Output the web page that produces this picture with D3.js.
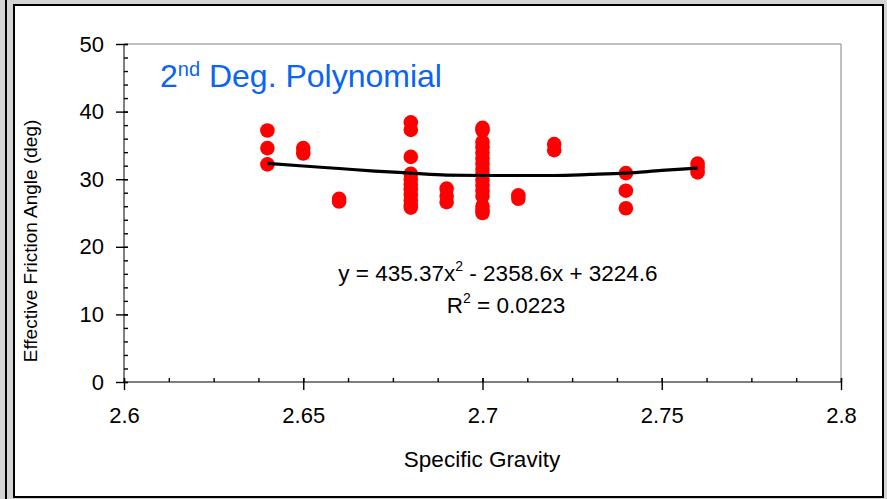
<!DOCTYPE html>
<html>
<head>
<meta charset="utf-8">
<script src="https://cdn.jsdelivr.net/npm/d3@7"></script>
<style>
	html, body { margin: 0; padding: 0; background: #d4d4d4; }
	body { width: 887px; height: 499px; overflow: hidden; position: relative; }
	#edge { position: absolute; left: 5px; top: 0; width: 2px; height: 499px; background: #000; }
	#viz { position: absolute; left: 0; top: 0; }
	text { font-family: 'Liberation Sans', Arial, sans-serif; fill: #000; }
</style>
</head>
<body>
<div id="edge"></div>
<svg id="viz" width="887" height="499"></svg>
<script>

var gravity = [
	2.64, 2.64, 2.64,
	2.65, 2.65,
	2.66, 2.66,
	2.68, 2.68, 2.68, 2.68, 2.68, 2.68, 2.68, 2.68, 2.68, 2.68, 2.68,
	2.69, 2.69, 2.69,
	2.70, 2.70, 2.70, 2.70, 2.70, 2.70, 2.70, 2.70, 2.70, 2.70, 2.70, 2.70, 2.70, 2.70, 2.70, 2.70,
	2.71, 2.71,
	2.72, 2.72,
	2.74, 2.74, 2.74,
	2.76, 2.76, 2.76
];

var frictionAngle = [
	37.2, 34.6, 32.2,
	34.6, 33.8,
	27.1, 26.7,
	38.4, 37.3, 33.3, 30.8, 30.0, 29.2, 28.5, 27.7, 26.9, 26.2, 25.8,
	28.6, 27.5, 26.6,
	37.6, 37.2, 35.5, 34.7, 33.9, 33.1, 32.3, 31.5, 30.7, 29.9, 29.1, 28.3, 27.5, 26.0, 25.4, 25.0,
	27.6, 27.1,
	35.2, 34.3,
	30.9, 28.3, 25.7,
	32.3, 31.7, 31.0
];

// trend line
var trendX = [ 2.64, 2.65, 2.66, 2.67, 2.68, 2.69, 2.70, 2.71, 2.72, 2.73, 2.74, 2.75, 2.76 ];
var trendY = [ 32.35, 31.95, 31.58, 31.2, 30.9, 30.6, 30.55, 30.55, 30.55, 30.7, 30.9, 31.3, 31.65 ];

var xTicks = [ 2.6, 2.65, 2.7, 2.75, 2.8 ];
var xTickLabels = [ '2.6', '2.65', '2.7', '2.75', '2.8' ];
var yTicks = [ 0, 10, 20, 30, 40, 50 ];

var svg = d3.select( '#viz' );

// chart box
svg.append( 'rect' )
	.attr( 'x', 14 )
	.attr( 'y', 5 )
	.attr( 'width', 869 )
	.attr( 'height', 492 )
	.style( 'fill', '#fff' )
	.style( 'stroke', '#000' )
	.style( 'stroke-width', 2 );

var plot = { left: 124, top: 44, right: 841, bottom: 382 };

var x = d3.scaleLinear().domain( [ 2.6, 2.8 ] ).range( [ plot.left, plot.right ] );
var y = d3.scaleLinear().domain( [ 0, 50 ] ).range( [ plot.bottom, plot.top ] );

// plot area frame (top and right)
svg.append( 'path' )
	.attr( 'd', 'M' + plot.left + ',' + plot.top + 'H' + plot.right + 'V' + plot.bottom )
	.style( 'fill', 'none' )
	.style( 'stroke', '#808080' )
	.style( 'stroke-width', 1 );

// minor ticks, drawn inside
var xMinor = d3.axisTop( x ).tickValues( d3.range( 0, 17 ).map( function ( i ) { return 2.6 + i * 0.0125; } ) )
	.tickSize( 4 ).tickFormat( '' );
svg.append( 'g' )
	.attr( 'transform', 'translate(0,' + plot.bottom + ')' )
	.call( xMinor );

var yMinor = d3.axisRight( y ).tickValues( d3.range( 0, 26 ).map( function ( i ) { return i * 2; } ) )
	.tickSize( 4 ).tickFormat( '' );
svg.append( 'g' )
	.attr( 'transform', 'translate(' + plot.left + ',0)' )
	.call( yMinor );

// major axes
var xAxis = d3.axisBottom( x )
	.tickValues( xTicks )
	.tickSize( 8 )
	.tickPadding( 17 )
	.tickFormat( function ( d, i ) { return xTickLabels[i]; } );

var gx = svg.append( 'g' )
	.classed( 'x-axis', true )
	.attr( 'transform', 'translate(0,' + plot.bottom + ')' )
	.call( xAxis );

var yAxis = d3.axisLeft( y )
	.tickValues( yTicks )
	.tickSize( 8 )
	.tickPadding( 12 );

var gy = svg.append( 'g' )
	.classed( 'y-axis', true )
	.attr( 'transform', 'translate(' + plot.left + ',0)' )
	.call( yAxis );

// majors cross the axis line: extend them 4px inward
gx.selectAll( '.tick line' ).attr( 'y1', -4 );
gy.selectAll( '.tick line' ).attr( 'x1', 4 );

svg.selectAll( '.domain' ).remove();
svg.append( 'line' )
	.attr( 'x1', plot.left ).attr( 'x2', plot.right )
	.attr( 'y1', plot.bottom ).attr( 'y2', plot.bottom )
	.style( 'stroke', '#000' );
svg.append( 'line' )
	.attr( 'x1', plot.left ).attr( 'x2', plot.left )
	.attr( 'y1', plot.top ).attr( 'y2', plot.bottom )
	.style( 'stroke', '#000' );

svg.selectAll( '.tick line' ).style( 'stroke', '#000' ).style( 'stroke-width', 1.4 );
svg.selectAll( '.tick text' )
	.style( 'font-size', '22px' )
	.style( 'font-family', "'Liberation Sans', Arial, sans-serif" );

// data points
svg.append( 'g' )
	.selectAll( 'circle' )
	.data( gravity )
	.enter()
	.append( 'circle' )
	.attr( 'cx', function ( d ) { return x( d ); } )
	.attr( 'cy', function ( d, i ) { return y( frictionAngle[i] ); } )
	.attr( 'r', 7.3 )
	.style( 'fill', '#ff0000' );

// trend line
var line = d3.line()
	.x( function ( d ) { return x( d ); } )
	.y( function ( d, i ) { return y( trendY[i] ); } )
	.curve( d3.curveMonotoneX );

svg.append( 'path' )
	.datum( trendX )
	.attr( 'd', line )
	.style( 'fill', 'none' )
	.style( 'stroke', '#000' )
	.style( 'stroke-width', 3.2 );

// title
var title = svg.append( 'text' )
	.attr( 'x', 160 )
	.attr( 'y', 87 )
	.style( 'font-size', '32px' )
	.style( 'fill', '#0a64f5' );
title.append( 'tspan' ).text( '2' );
title.append( 'tspan' ).attr( 'dy', -11 ).style( 'font-size', '20px' ).text( 'nd' );
title.append( 'tspan' ).attr( 'dy', 11 ).text( ' Deg. Polynomial' );

// equation
var eq = svg.append( 'text' )
	.attr( 'x', 498 )
	.attr( 'y', 281 )
	.attr( 'text-anchor', 'middle' )
	.style( 'font-size', '22.5px' );
eq.append( 'tspan' ).text( 'y = 435.37x' );
eq.append( 'tspan' ).attr( 'dy', -10 ).style( 'font-size', '14px' ).text( '2' );
eq.append( 'tspan' ).attr( 'dy', 10 ).text( ' - 2358.6x + 3224.6' );

var r2 = svg.append( 'text' )
	.attr( 'x', 506 )
	.attr( 'y', 313 )
	.attr( 'text-anchor', 'middle' )
	.style( 'font-size', '22.5px' );
r2.append( 'tspan' ).text( 'R' );
r2.append( 'tspan' ).attr( 'dy', -10 ).style( 'font-size', '14px' ).text( '2' );
r2.append( 'tspan' ).attr( 'dy', 10 ).text( ' = 0.0223' );

// axis titles
svg.append( 'text' )
	.attr( 'x', 482 )
	.attr( 'y', 467 )
	.attr( 'text-anchor', 'middle' )
	.style( 'font-size', '22.5px' )
	.text( 'Specific Gravity' );

svg.append( 'text' )
	.attr( 'transform', 'translate(37,241) rotate(-90)' )
	.attr( 'text-anchor', 'middle' )
	.style( 'font-size', '19px' )
	.text( 'Effective Friction Angle (deg)' );

</script>
</body>
</html>
